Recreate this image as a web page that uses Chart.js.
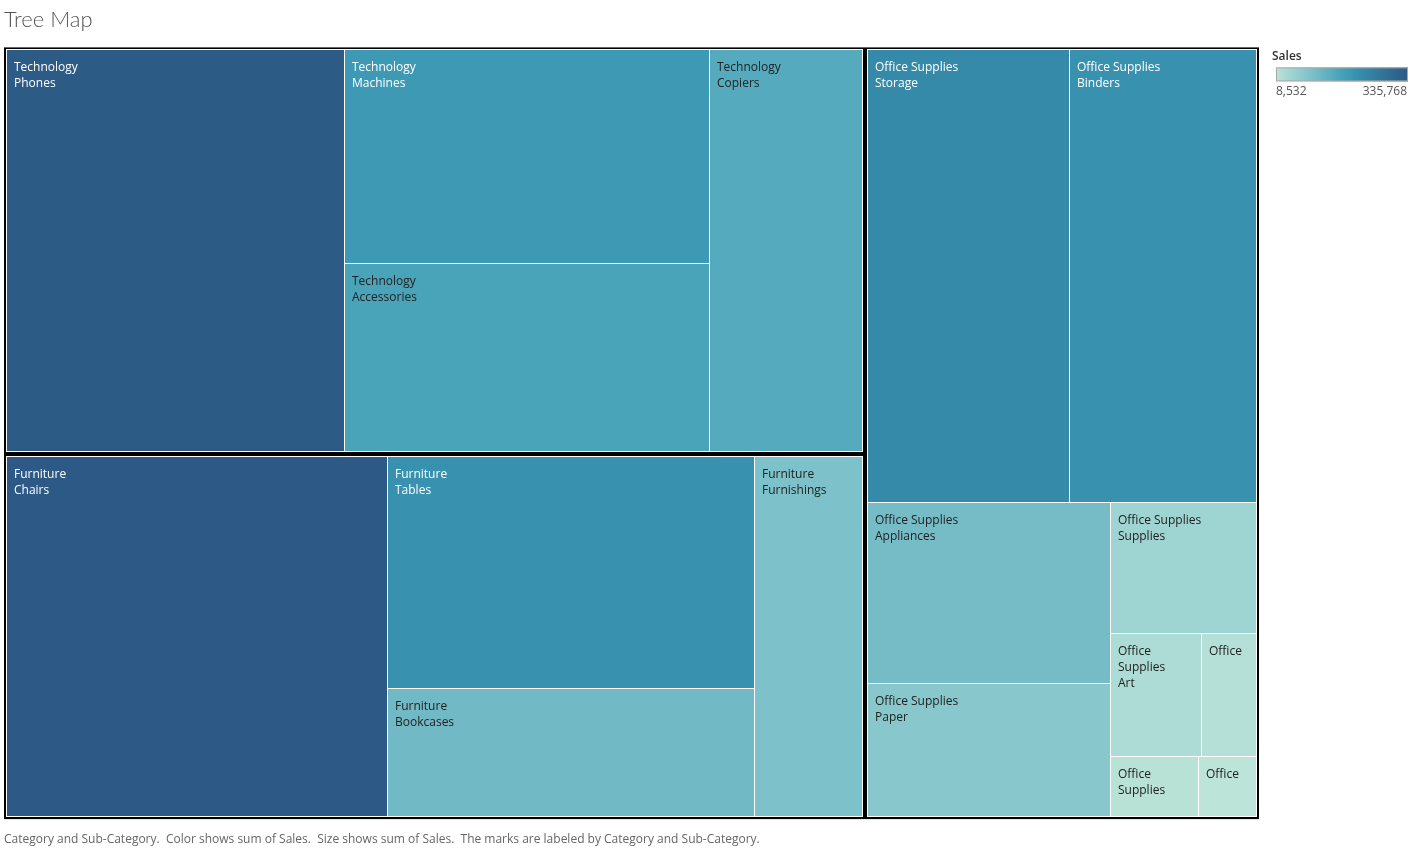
<!DOCTYPE html>
<html><head><meta charset="utf-8">
<script src="https://cdn.jsdelivr.net/npm/chart.js@4/dist/chart.umd.min.js"></script>
<style>html,body{margin:0;padding:0;background:#fff;overflow:hidden}#wrap{position:relative;width:1412px;height:848px}</style>
</head><body><div id="wrap"><canvas id="c"></canvas></div>
<script>
// ---- data ----
const categories = ['Technology', 'Furniture', 'Office Supplies'];
const techSubs = ['Phones', 'Machines', 'Accessories', 'Copiers'];
const techSales = [331600, 190440, 166860, 150380];
const furnSubs = ['Chairs', 'Tables', 'Bookcases', 'Furnishings'];
const furnSales = [335768, 207710, 115000, 95400];
const officeSubs = ['Storage', 'Binders', 'Appliances', 'Paper', 'Supplies', 'Art', 'Envelopes', 'Labels', 'Fasteners'];
const officeSales = [224160, 206915, 108080, 79100, 46650, 27485, 16672, 12756, 8532];
const colorStops = ['#bce4d8','#aedcd5','#a1d5d2','#95cecf','#89c8cc','#7ec1ca','#72bac6','#66b2c2','#59acbe','#4ba5ba','#419eb6','#3b96b2','#358ead','#3586a7','#347ea1','#32779b','#316f96','#2f6790','#2d608a','#2c5985'];
const titleText = 'Tree Map';
const captionText = 'Category and Sub-Category.  Color shows sum of Sales.  Size shows sum of Sales.  The marks are labeled by Category and Sub-Category.';
const legendTitle = 'Sales';

// ---- helpers ----
const subLists = [techSubs, furnSubs, officeSubs];
const saleLists = [techSales, furnSales, officeSales];
const allSales = saleLists.flat();
const minSale = Math.min(...allSales), maxSale = Math.max(...allSales);

function hexToRgb(h) { const n = parseInt(h.slice(1), 16); return [(n >> 16) & 255, (n >> 8) & 255, n & 255]; }
const stopRgb = colorStops.map(hexToRgb);
function colorFor(v) {
  const t = Math.max(0, Math.min(1, (v - minSale) / (maxSale - minSale)));
  const f = t * (stopRgb.length - 1);
  const i = Math.min(stopRgb.length - 2, Math.floor(f));
  const u = f - i;
  const a = stopRgb[i], b = stopRgb[i + 1];
  return a.map((c, k) => Math.round(c + (b[k] - c) * u));
}
function lum(rgb) {
  const l = rgb.map(c => { c /= 255; return c <= 0.03928 ? c / 12.92 : Math.pow((c + 0.055) / 1.055, 2.4); });
  return 0.2126 * l[0] + 0.7152 * l[1] + 0.0722 * l[2];
}

const PHI = (1 + Math.sqrt(5)) / 2;
function squarify(items, x0, y0, x1, y1) {
  const out = [];
  const n = items.length;
  let value = items.reduce((s, d) => s + d.value, 0);
  let i0 = 0, i1 = 0;
  while (i0 < n) {
    const dx = x1 - x0, dy = y1 - y0;
    let sumValue = items[i1++].value;
    let minValue = sumValue, maxValue = sumValue;
    const alpha = Math.max(dy / dx, dx / dy) / (value * PHI);
    let beta = sumValue * sumValue * alpha;
    let minRatio = Math.max(maxValue / beta, beta / minValue);
    for (; i1 < n; ++i1) {
      const nv = items[i1].value;
      sumValue += nv;
      if (nv < minValue) minValue = nv;
      if (nv > maxValue) maxValue = nv;
      beta = sumValue * sumValue * alpha;
      const newRatio = Math.max(maxValue / beta, beta / minValue);
      if (newRatio > minRatio) { sumValue -= nv; break; }
      minRatio = newRatio;
    }
    const row = items.slice(i0, i1);
    if (dx < dy) {
      const yb = i1 < n ? y0 + dy * sumValue / value : y1;
      let x = x0;
      row.forEach((d, k) => { const xe = k === row.length - 1 ? x1 : x + dx * d.value / sumValue; out.push({ d, x0: x, y0: y0, x1: xe, y1: yb }); x = xe; });
      y0 = yb;
    } else {
      const xb = i1 < n ? x0 + dx * sumValue / value : x1;
      let y = y0;
      row.forEach((d, k) => { const ye = k === row.length - 1 ? y1 : y + dy * d.value / sumValue; out.push({ d, x0: x0, y0: y, x1: xb, y1: ye }); y = ye; });
      x0 = xb;
    }
    value -= sumValue; i0 = i1;
  }
  return out;
}

const LABEL_FONT = '12px "Open Sans"';
function wrapWords(ctx, text, maxW) {
  const words = text.split(' ');
  const lines = [];
  let cur = '';
  words.forEach(w => {
    const test = cur ? cur + ' ' + w : w;
    if (!cur || ctx.measureText(test).width <= maxW) cur = test;
    else { lines.push(cur); cur = w; }
  });
  if (cur) lines.push(cur);
  return lines;
}

const treemapPlugin = {
  id: 'treemap',
  afterDraw(chart) {
    const ctx = chart.ctx;
    const xs = chart.scales.x, ys = chart.scales.y;
    const L = xs.getPixelForValue(0), R = xs.getPixelForValue(1);
    const T = ys.getPixelForValue(0), B = ys.getPixelForValue(1);
    const groups = categories.map((c, i) => ({
      name: c,
      value: saleLists[i].reduce((s, v) => s + v, 0),
      children: subLists[i].map((s, k) => ({ cat: c, name: s, value: saleLists[i][k] })).sort((a, b) => b.value - a.value)
    })).sort((a, b) => b.value - a.value);

    ctx.save();
    ctx.fillStyle = '#000';
    ctx.fillRect(L, T, R - L, B - T);
    const tops = squarify(groups, L, T, R, B);
    const inset = 2;
    tops.forEach(tr => {
      const ix0 = Math.round(tr.x0 + inset), iy0 = Math.round(tr.y0 + inset);
      const ix1 = Math.round(tr.x1 - inset), iy1 = Math.round(tr.y1 - inset);
      ctx.fillStyle = '#fff';
      ctx.fillRect(ix0, iy0, ix1 - ix0, iy1 - iy0);
      const cells = squarify(tr.d.children, ix0, iy0, ix1 - 1, iy1 - 1);
      cells.forEach(c => {
        const cx0 = Math.round(c.x0) + 1, cy0 = Math.round(c.y0) + 1;
        const cx1 = Math.round(c.x1), cy1 = Math.round(c.y1);
        const rgb = colorFor(c.d.value);
        ctx.fillStyle = 'rgb(' + rgb.join(',') + ')';
        ctx.fillRect(cx0, cy0, cx1 - cx0, cy1 - cy0);
        // label
        ctx.font = LABEL_FONT;
        ctx.fillStyle = lum(rgb) < 0.3 ? '#ffffff' : '#222222';
        ctx.textBaseline = 'alphabetic';
        ctx.textAlign = 'left';
        const w = cx1 - cx0, h = cy1 - cy0;
        const maxW = w - 14;
        const lines = [...wrapWords(ctx, c.d.cat, maxW), ...wrapWords(ctx, c.d.name, maxW)];
        for (let i = 0; i < lines.length; i++) {
          if (ctx.measureText(lines[i]).width > maxW) break;
          if (21 + i * 16 + 8 > h) break;
          ctx.fillText(lines[i], cx0 + 7, cy0 + 21 + i * 16);
        }
      });
    });

    // colour legend
    const lx = R + 17, ly = T + 20, lw = 132, lh = 14;
    ctx.font = '600 12px "Open Sans"';
    ctx.fillStyle = '#333';
    ctx.textBaseline = 'middle';
    ctx.textAlign = 'left';
    ctx.fillText(legendTitle, R + 13, T + 9);
    const g = ctx.createLinearGradient(lx, 0, lx + lw, 0);
    colorStops.forEach((c, i) => g.addColorStop(i / (colorStops.length - 1), c));
    ctx.fillStyle = g;
    ctx.fillRect(lx, ly, lw, lh);
    ctx.strokeStyle = '#a9a9a9';
    ctx.lineWidth = 1;
    ctx.strokeRect(lx + 0.5, ly + 0.5, lw - 1, lh - 1);
    ctx.font = '12px "Open Sans"';
    ctx.fillStyle = '#555';
    ctx.textAlign = 'left';
    ctx.fillText(minSale.toLocaleString('en-US'), lx, ly + lh + 10);
    ctx.textAlign = 'right';
    ctx.fillText(maxSale.toLocaleString('en-US'), lx + lw - 1, ly + lh + 10);
    ctx.restore();
  }
};

new Chart(document.getElementById('c'), {
  type: 'scatter',
  data: { datasets: [{ data: [] }] },
  options: {
    responsive: true,
    maintainAspectRatio: false,
    animation: false,
    events: [],
    layout: { padding: { left: 4, right: 153, top: 0, bottom: 0 } },
    scales: {
      x: { type: 'linear', min: 0, max: 1, display: false },
      y: { type: 'linear', min: 0, max: 1, reverse: true, display: false }
    },
    plugins: {
      legend: { display: false },
      tooltip: { enabled: false },
      title: { display: true, text: titleText, align: 'start', color: '#555', font: { family: 'Lato', size: 22, weight: 300 }, padding: { top: 7, bottom: 14 } },
      subtitle: { display: true, text: captionText, position: 'bottom', align: 'start', color: '#666', font: { family: '"Open Sans"', size: 12 }, padding: { top: 13.5, bottom: 1 } }
    }
  },
  plugins: [treemapPlugin]
});
</script>
</body></html>
